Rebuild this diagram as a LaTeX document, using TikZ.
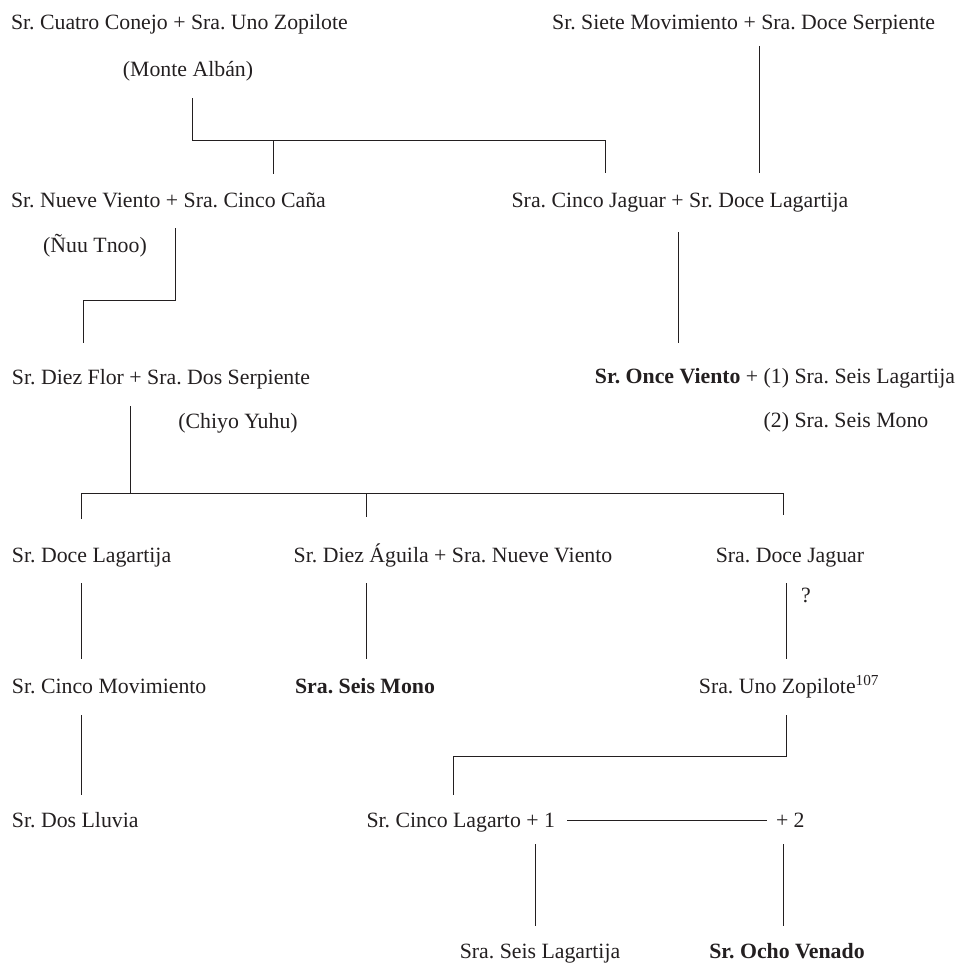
\documentclass[tikz,border=0pt]{standalone}
\usepackage{fontspec}
\setmainfont{Liberation Serif}
\frenchspacing
\definecolor{ink}{HTML}{231F20}
\tikzset{
  lbl/.style={inner sep=0pt, outer sep=0pt, text=ink, font=\frenchspacing\fontsize{21.8}{26}\selectfont},
  conn/.style={draw=ink, line width=1pt}
}
\begin{document}
\begin{tikzpicture}[x=1pt,y=-1pt]
\useasboundingbox (0,0) rectangle (960,966);
% row 1
\node[lbl, anchor=base west] (n1) at (11,30) {Sr. Cuatro Conejo + Sra. Uno Zopilote};
\node[lbl, anchor=base] (n1p) at (188,77) {(Monte Albán)};
\node[lbl, anchor=base east] (n2) at (935,30) {Sr. Siete Movimiento + Sra. Doce Serpiente};
% row 2
\node[lbl, anchor=base west] (n3) at (11,207) {Sr. Nueve Viento + Sra. Cinco Caña};
\node[lbl, anchor=base] (n3p) at (95,252) {(Ñuu Tnoo)};
\node[lbl, anchor=base] (n4) at (680,207) {Sra. Cinco Jaguar + Sr. Doce Lagartija};
% row 3
\node[lbl, anchor=base west] (n5) at (12,384) {Sr. Diez Flor + Sra. Dos Serpiente};
\node[lbl, anchor=base] (n5p) at (238,428) {(Chiyo Yuhu)};
\node[lbl, anchor=base east] (n6) at (955,383) {\textbf{Sr. Once Viento} + (1) Sra. Seis Lagartija};
\node[lbl, anchor=base] (n6p) at (846,427) {(2) Sra. Seis Mono};
% row 4
\node[lbl, anchor=base west] (n7) at (12,562) {Sr. Doce Lagartija};
\node[lbl, anchor=base] (n8) at (453,562) {Sr. Diez Águila + Sra. Nueve Viento};
\node[lbl, anchor=base] (n9) at (790,562) {Sra. Doce Jaguar};
\node[lbl, anchor=base west] (q) at (801,602) {?};
% row 5
\node[lbl, anchor=base west] (n10) at (12,693) {Sr. Cinco Movimiento};
\node[lbl, anchor=base] (n11) at (365,693) {\textbf{Sra. Seis Mono}};
\node[lbl, anchor=base] (n12) at (789,693) {Sra. Uno Zopilote\textsuperscript{107}};
% row 6
\node[lbl, anchor=base west] (n13) at (12,827) {Sr. Dos Lluvia};
\node[lbl, anchor=base east] (n14) at (555,827) {Sr. Cinco Lagarto + 1};
\node[lbl, anchor=base west] (n15) at (776,827) {+ 2};
% row 7
\node[lbl, anchor=base] (n16) at (540,958) {Sra. Seis Lagartija};
\node[lbl, anchor=base] (n17) at (787,958) {\textbf{Sr. Ocho Venado}};

% connector coordinates
\coordinate (a1) at (192,98);
\coordinate (a2) at (605,173);
\coordinate (a3) at (273,140);
\coordinate (a4) at (273,174);
\coordinate (b1) at (759,46);
\coordinate (b2) at (759,173);
\coordinate (c1) at (175,228);
\coordinate (c2) at (83,343);
\coordinate (d1) at (678,232);
\coordinate (d2) at (678,343);
\coordinate (e1) at (130,406);
\coordinate (e2) at (130,493);
\coordinate (e3) at (81,519);
\coordinate (e4) at (783,515);
\coordinate (e5) at (366,493);
\coordinate (e6) at (366,517);
\coordinate (f1) at (81,583);
\coordinate (f2) at (81,659);
\coordinate (g1) at (366,583);
\coordinate (g2) at (366,659);
\coordinate (h1) at (786,583);
\coordinate (h2) at (786,659);
\coordinate (i1) at (81,715);
\coordinate (i2) at (81,795);
\coordinate (j1) at (786,715);
\coordinate (j2) at (453,795);
\coordinate (k1) at (567,820);
\coordinate (k2) at (767,820);
\coordinate (l1) at (535,844);
\coordinate (l2) at (535,926);
\coordinate (m1) at (783,844);
\coordinate (m2) at (783,926);

\draw[conn] (a1) -- (192,140) -| (a2);
\draw[conn] (a3) -- (a4);
\draw[conn] (b1) -- (b2);
\draw[conn] (c1) -- (175,300) -| (c2);
\draw[conn] (d1) -- (d2);
\draw[conn] (e1) -- (e2);
\draw[conn] (e3) -- (81,493) -| (e4);
\draw[conn] (e5) -- (e6);
\draw[conn] (f1) -- (f2);
\draw[conn] (g1) -- (g2);
\draw[conn] (h1) -- (h2);
\draw[conn] (i1) -- (i2);
\draw[conn] (j1) -- (786,756) -| (j2);
\draw[conn] (k1) -- (k2);
\draw[conn] (l1) -- (l2);
\draw[conn] (m1) -- (m2);
\end{tikzpicture}
\end{document}
